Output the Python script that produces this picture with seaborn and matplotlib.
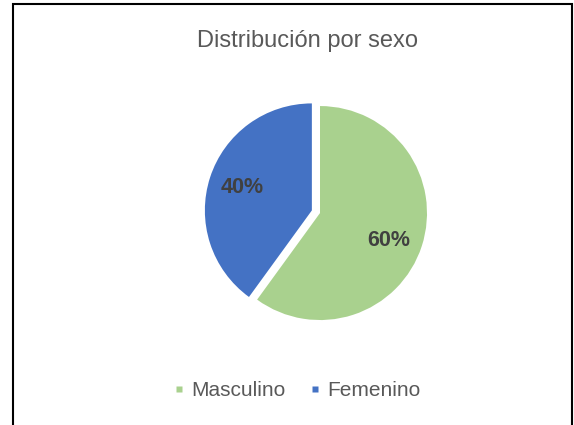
import matplotlib
matplotlib.use("Agg")
import matplotlib.pyplot as plt
import seaborn as sns
from matplotlib.lines import Line2D
from matplotlib.patches import Rectangle

# data
categories = ["Masculino", "Femenino"]
values = [60, 40]
colors = ["#A9D18E", "#4472C4"]

sns.set_theme(style="white")
plt.rcParams["font.family"] = ["Liberation Sans", "DejaVu Sans"]

fig = plt.figure(figsize=(5.74, 4.25), dpi=100)

# chart border (Excel-style frame)
fig.patches.append(Rectangle((13 / 574, -0.05), (572 - 13) / 574, 1.05 - 4 / 425,
                             transform=fig.transFigure, fill=False,
                             edgecolor="black", linewidth=1.5))

ax = fig.add_axes([0.3245, 0.184, 0.466, 0.6294])
wedges, texts, autotexts = ax.pie(
    values, colors=colors, startangle=90, counterclock=False,
    explode=[0, 0.08], autopct="%1.0f%%", pctdistance=0.68,
    wedgeprops=dict(linewidth=0),
    textprops=dict(fontsize=15.5, fontweight="bold", color="#404040"),
)
autotexts[0].set_y(autotexts[0].get_position()[1] - 0.05)
ax.set_xlim(-1.25, 1.25)
ax.set_ylim(-1.25, 1.25)
ax.set_aspect("equal")
ax.axis("off")

fig.text(307.5 / 574, 1 - 41 / 425, "Distribución por sexo",
         ha="center", va="center", fontsize=17, color="#595959")

handles = [Line2D([], [], marker="s", linestyle="none", markersize=5,
                  markerfacecolor=c, markeredgecolor="none") for c in colors]
fig.legend(handles, categories, loc="center", bbox_to_anchor=(0.519, 1 - 391 / 425),
           ncol=2, frameon=False, fontsize=15, labelcolor="#595959",
           handlelength=0.35, handletextpad=0.45, columnspacing=1.2)

fig.savefig("out.png", dpi=100)
